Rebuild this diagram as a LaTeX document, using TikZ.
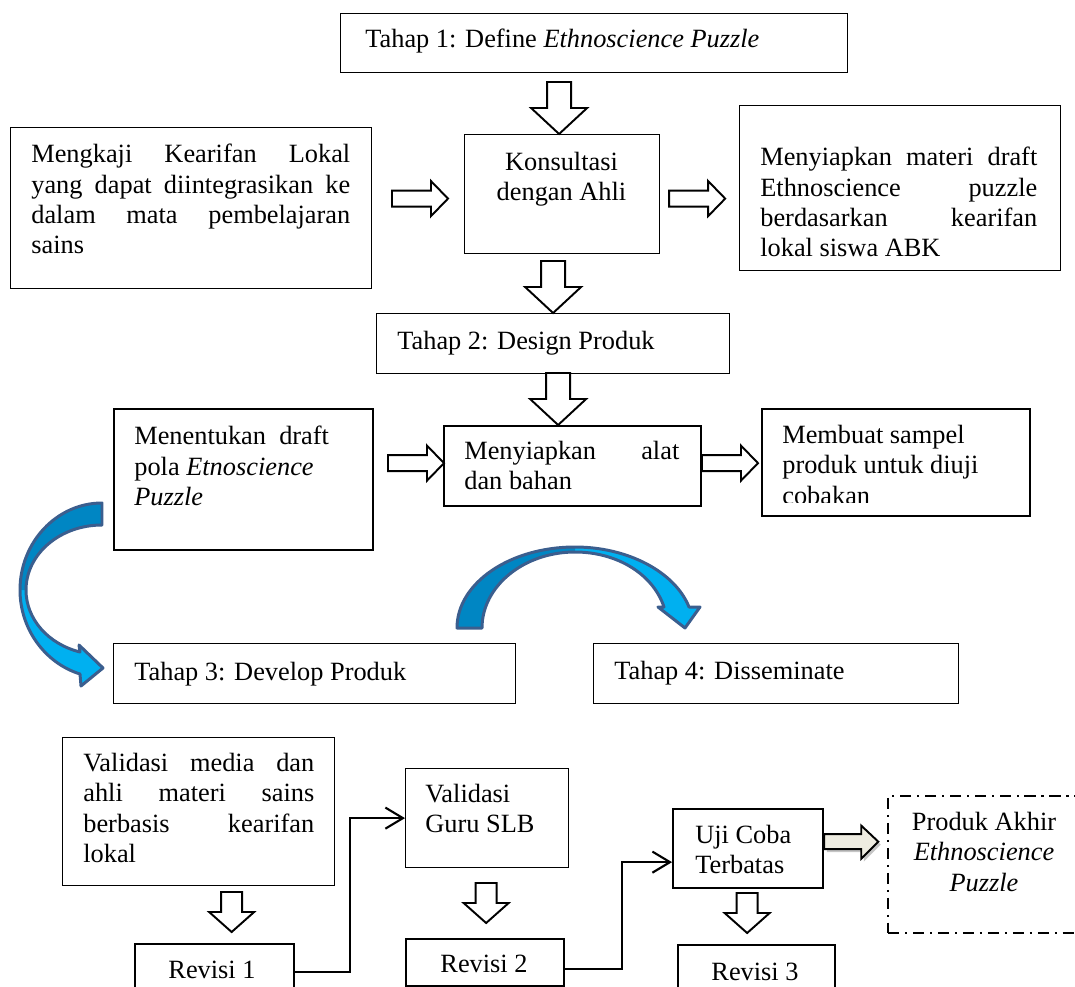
\documentclass[tikz,border=0pt]{standalone}
\usepackage{fontspec}
\setmainfont{Liberation Serif}
\usetikzlibrary{arrows.meta,calc}
\definecolor{arcout}{RGB}{59,94,142}
\definecolor{arclight}{RGB}{0,176,240}
\definecolor{arcdark}{RGB}{0,134,195}
\definecolor{beige}{RGB}{238,236,225}
\tolerance=10000
\hyphenpenalty=10000
\hbadness=10000

\begin{document}
\begin{tikzpicture}[x=0.02cm, y=-0.02cm,
  every node/.style={font=\fontsize{15}{17.2}\selectfont},
  box/.style={draw, line width=0.7pt, inner sep=0, anchor=north west},
  boxb/.style={box, line width=1.3pt},
  txt/.style={inner sep=0, anchor=north west},
  blk/.style={draw, line width=1.1pt, fill=white},
  dblk/.pic={\draw[blk] (-12,-52) -- (12,-52) -- (12,-26) -- (28,-26) -- (0,0) -- (-28,-26) -- (-12,-26) -- cycle;},
  sdblk/.pic={\draw[blk] (-10.5,-40) -- (10.5,-40) -- (10.5,-20) -- (22.5,-20) -- (0,0) -- (-22.5,-20) -- (-10.5,-20) -- cycle;},
  rblk/.pic={\draw[blk] (0,0) -- (-17,-17.5) -- (-17,-8) -- (-56,-8) -- (-56,8) -- (-17,8) -- (-17,17.5) -- cycle;},
  fatarr/.pic={
    \fill[black!45, opacity=.5] (2.5,-4.5) -- (39.5,-4.5) -- (39.5,-13) -- (56.5,3) -- (39.5,20) -- (39.5,10.5) -- (2.5,10.5) -- cycle;
    \draw[line width=1.1pt, fill=beige] (0,-7.5) -- (37,-7.5) -- (37,-16) -- (54,0) -- (37,17) -- (37,7.5) -- (0,7.5) -- cycle;},
  conn/.style={line width=1.2pt, -{Straight Barb[length=10pt,width=12pt]}},
  curved/.style={draw=arcout, line width=1.7pt, line join=round},
  dashdot/.style={draw, line width=1.2pt, inner sep=0, anchor=north west, dash pattern=on 6.5pt off 3.2pt on 1.3pt off 3.2pt}
]
  \useasboundingbox (0,0) rectangle (1075,987);
  \clip (0,0) rectangle (1075,987);

  % Tahap 1: define
  \node[box, minimum width=10.14cm, minimum height=1.18cm] (tahap1) at (340,13) {};
  \node[txt, anchor=base west] (tahap1T) at (365,48) {Tahap 1: Define \textit{Ethnoscience Puzzle}};
  \node[box, minimum width=7.22cm, minimum height=3.22cm] (mengkaji) at (10,127) {};
  \node[txt, text width=6.38cm, align=justify] (mengkajiT) at (31,144) {Mengkaji Kearifan Lokal\linebreak yang dapat diintegrasikan ke\linebreak dalam mata pembelajaran\linebreak sains};
  \node[box, minimum width=3.90cm, minimum height=2.38cm] (kons) at (464,134) {};
  \node[txt, anchor=north, align=center] (konsT) at (561.5,152) {Konsultasi\\dengan Ahli};
  \node[box, minimum width=6.42cm, minimum height=3.30cm] (materi) at (739,105) {};
  \node[txt, text width=5.54cm, align=justify] (materiT) at (760,147) {Menyiapkan materi draft\linebreak Ethnoscience puzzle\linebreak berdasarkan kearifan\linebreak lokal siswa ABK};

  \pic at ($(kons.north)+(-3,0)$) {dblk};
  \pic at ($(kons.west)+(-16,4.5)$) {rblk};
  \pic at ($(kons.east)+(65,4.5)$) {rblk};

  % Tahap 2: design
  \node[box, minimum width=7.06cm, minimum height=1.20cm] (tahap2) at (376,313) {};
  \node[txt, anchor=base west] (tahap2T) at (397,349) {Tahap 2: Design Produk};
  \pic at (tahap2.north) {dblk};
  \node[boxb, minimum width=5.18cm, minimum height=2.82cm] (menentukan) at (113,408) {};
  \node[txt, align=left] (menentukanT) at (134,426) {Menentukan~ draft\\pola \textit{Etnoscience}\\\textit{Puzzle}};
  \node[boxb, minimum width=5.14cm, minimum height=1.60cm] (alat) at (443,425) {};
  \node[txt, text width=4.30cm, align=justify] (alatT) at (464,441) {Menyiapkan alat\linebreak dan bahan};
  \node[boxb, minimum width=5.36cm, minimum height=2.14cm] (membuat) at (761,408) {};
  \begin{scope}
    \clip (761,408) rectangle (1029,502);
    \node[txt, align=left] (membuatT) at (782,425) {Membuat sampel\\produk untuk diuji\\cobakan};
  \end{scope}
  \pic at ($(alat.north)+(-14.5,0)$) {dblk};
  \pic at ($(alat.west)+(1,-3)$) {rblk};
  \pic at ($(membuat.west)+(-3,0.5)$) {rblk};

  % curved arrows
  \fill[arclight] (102,503) .. controls (57,503) and (20,542) .. (20,590) .. controls (20,629) and (45,663) .. (80,674) -- (81,686) -- (103,668) -- (79,645) -- (80,652) .. controls (48,644) and (26,619) .. (26,590) .. controls (26,554) and (60,525) .. (102,525) -- cycle;
  \fill[arcdark] (102,503) .. controls (57,503) and (20,542) .. (20,590) -- (26,590) .. controls (26,554) and (60,525) .. (102,525) -- cycle;
  \draw[curved] (102,503) .. controls (57,503) and (20,542) .. (20,590) .. controls (20,629) and (45,663) .. (80,674) -- (81,686) -- (103,668) -- (79,645) -- (80,652) .. controls (48,644) and (26,619) .. (26,590) .. controls (26,554) and (60,525) .. (102,525) -- cycle;
  \fill[arclight] (457,628) .. controls (457,583) and (510,547) .. (575,547) .. controls (628,547) and (675,572) .. (689,607) -- (700,607) -- (685,628) -- (658,607) -- (664,607) .. controls (653,574) and (617,552) .. (575,552) .. controls (524,552) and (482,586) .. (482,628) -- cycle;
  \fill[arcdark] (457,628) .. controls (457,583) and (510,547) .. (575,547) -- (575,552) .. controls (524,552) and (482,586) .. (482,628) -- cycle;
  \draw[curved] (457,628) .. controls (457,583) and (510,547) .. (575,547) .. controls (628,547) and (675,572) .. (689,607) -- (700,607) -- (685,628) -- (658,607) -- (664,607) .. controls (653,574) and (617,552) .. (575,552) .. controls (524,552) and (482,586) .. (482,628) -- cycle;

  % Tahap 3 and 4
  \node[box, minimum width=8.04cm, minimum height=1.20cm] (tahap3) at (113,643) {};
  \node[txt, anchor=base west] (tahap3T) at (134,680) {Tahap 3: Develop Produk};
  \node[box, minimum width=7.30cm, minimum height=1.20cm] (tahap4) at (593,643) {};
  \node[txt, anchor=base west] (tahap4T) at (614,679) {Tahap 4: Disseminate};

  % validasi dan revisi
  \node[box, minimum width=5.44cm, minimum height=2.96cm] (valmedia) at (62,737) {};
  \node[txt, text width=4.62cm, align=justify] (valmediaT) at (83,753) {Validasi media dan\linebreak ahli materi sains\linebreak berbasis kearifan\linebreak lokal};
  \node[box, minimum width=3.26cm, minimum height=1.98cm] (guru) at (405,768) {};
  \node[txt, align=left] (guruT) at (425,784) {Validasi\\Guru SLB};
  \node[boxb, minimum width=3.00cm, minimum height=1.58cm] (uji) at (672,808) {};
  \node[txt, align=left] (ujiT) at (695,825) {Uji Coba\\Terbatas};
  \node[dashdot, minimum width=4.60cm, minimum height=2.74cm] (produk) at (887,795) {};
  \node[txt, anchor=north, align=center] (produkT) at (984,812) {Produk Akhir\\\textit{Ethnoscience}\\\textit{Puzzle}};

  \node[boxb, minimum width=3.18cm, minimum height=1.10cm] (rev1) at (134,943) {};
  \node[txt, anchor=base] (rev1T) at (212,978) {Revisi 1};
  \node[boxb, minimum width=3.16cm, minimum height=0.94cm] (rev2) at (405,938) {};
  \node[txt, anchor=base] (rev2T) at (484,972) {Revisi 2};
  \node[boxb, minimum width=3.14cm, minimum height=1.10cm] (rev3) at (677,944) {};
  \node[txt, anchor=base] (rev3T) at (755,980) {Revisi 3};

  \pic at ($(rev1.north)+(17,-11)$) {sdblk};
  \pic at ($(rev2.north)+(1,-15)$) {sdblk};
  \pic at ($(rev3.north)+(-9.5,-11)$) {sdblk};
  \pic at ($(uji.east)+(0,-7)$) {fatarr};

  \draw[conn] (rev1.east) -- ++(55,0) |- (guru.west);
  \draw[conn] ($(rev2.east)+(0,6)$) -- ++(57,0) |- ($(uji.west)+(0,13.5)$);
\end{tikzpicture}
\end{document}
